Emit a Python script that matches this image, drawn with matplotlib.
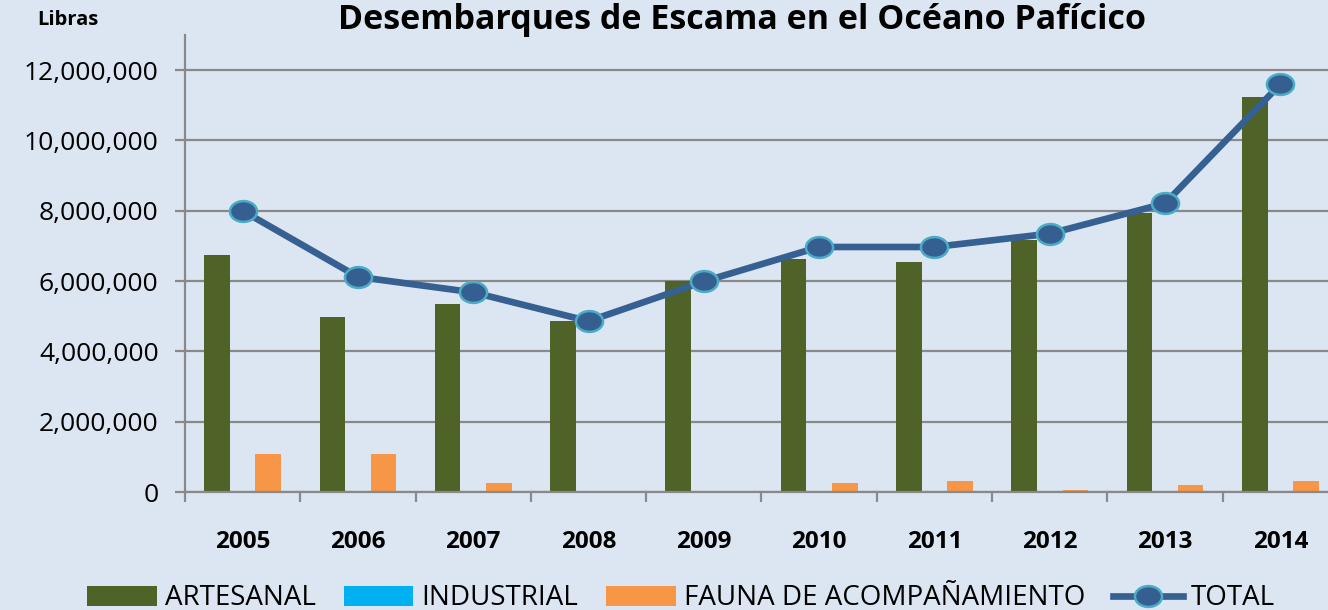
import numpy as np
import matplotlib
matplotlib.use("Agg")
import matplotlib.pyplot as plt
from matplotlib.path import Path

# datos (libras)
years = ['2005', '2006', '2007', '2008', '2009', '2010', '2011', '2012', '2013', '2014']
artesanal = [6740000, 4980000, 5350000, 4860000, 6000000, 6620000, 6540000, 7180000, 7950000, 11230000]
industrial = [30000, 0, 30000, 0, 0, 0, 0, 30000, 0, 0]
fauna = [1080000, 1080000, 260000, 0, 0, 260000, 310000, 60000, 200000, 310000]
total = [8000000, 6120000, 5680000, 4860000, 5990000, 6970000, 6970000, 7350000, 8210000, 11600000]
yticks = [0, 2000000, 4000000, 6000000, 8000000, 10000000, 12000000]

plt.rcParams['font.family'] = ['Open Sans', 'DejaVu Sans']
bg = '#DCE6F2'
grid_c = '#898989'

fig = plt.figure(figsize=(13.28, 6.10), dpi=100, facecolor=bg)
ax = fig.add_axes([0.1393, 0.1934, 0.8682, 0.7492], facecolor=bg)

x = np.arange(len(years))
w = 0.222
b1 = ax.bar(x - w, artesanal, w, color='#4F6228', label='ARTESANAL', zorder=2)
b2 = ax.bar(x, industrial, w, color='#00B0F0', label='INDUSTRIAL', zorder=2)
b3 = ax.bar(x + w, fauna, w, color='#F79646', label='FAUNA DE ACOMPAÑAMIENTO', zorder=2)

# marcador ovalado como en excel
circ = Path.unit_circle()
oval = Path(circ.vertices * np.array([1.3, 1.0]), circ.codes)
ln, = ax.plot(x, total, color='#366092', lw=4.8, marker=oval, ms=19.5,
              mfc='#365F91', mec='#4BACC6', mew=1.8, label='TOTAL', zorder=3)

ax.set_xlim(-0.5, 9.5)
ax.set_ylim(0, 13.0e6)
ax.set_yticks(yticks)
ax.set_yticklabels(['{:,}'.format(v) for v in yticks], fontsize=19)
ax.yaxis.grid(True, color=grid_c, lw=1.6)
ax.set_axisbelow(True)
ax.tick_params(axis='y', length=7, width=1.6, color=grid_c, pad=12)

ax.set_xticks(x)
ax.set_xticklabels(years, fontsize=17.5, fontweight='bold')
ax.set_xticks(np.arange(-0.5, 10, 1), minor=True)
ax.tick_params(axis='x', which='major', length=0, pad=27)
ax.tick_params(axis='x', which='minor', length=7, width=1.6, color=grid_c)

for s in ['top', 'right']:
    ax.spines[s].set_visible(False)
for s in ['left', 'bottom']:
    ax.spines[s].set_color(grid_c)
    ax.spines[s].set_linewidth(1.6)

fig.text(0.5587, 0.968, 'Desembarques de Escama en el Océano Pafícico',
         ha='center', va='center', fontsize=24.5, fontweight='bold')
fig.text(0.028, 0.968, 'Libras', ha='left', va='center', fontsize=14.5, fontweight='bold')

fig.legend([b1, b2, b3, ln], ['ARTESANAL', 'INDUSTRIAL', 'FAUNA DE ACOMPAÑAMIENTO', 'TOTAL'],
           loc='lower center', bbox_to_anchor=(0.513, -0.045), ncol=4, frameon=False,
           fontsize=20, handlelength=2.5, handleheight=0.75, handletextpad=0.3,
           columnspacing=1.0)

fig.savefig('out.png', dpi=100, facecolor=bg)
